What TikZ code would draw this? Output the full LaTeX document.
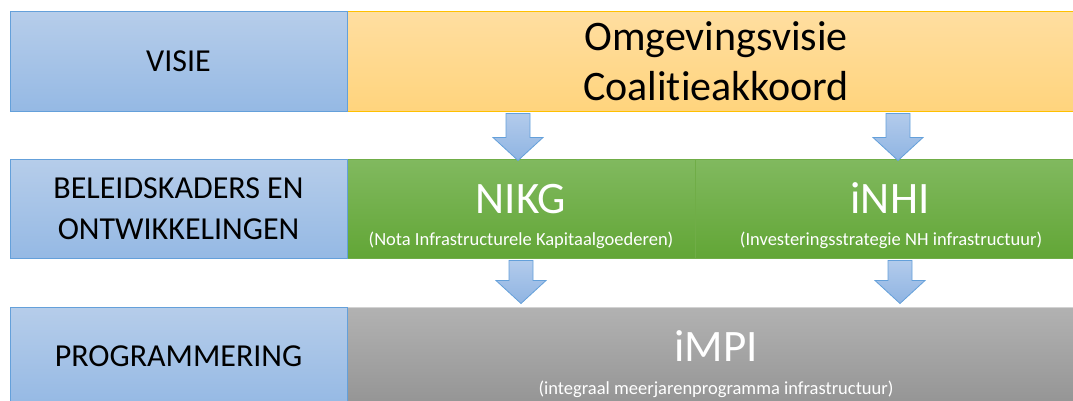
\documentclass[tikz,border=0pt]{standalone}
\usepackage{fontspec}
\setmainfont{Carlito}[Ligatures=NoCommon]
\usetikzlibrary{positioning,calc}
\definecolor{LblTop}{RGB}{182,205,234}
\definecolor{LblBot}{RGB}{149,185,228}
\definecolor{LblLine}{RGB}{100,160,218}
\definecolor{GoldTop}{RGB}{255,222,160}
\definecolor{GoldBot}{RGB}{255,212,125}
\definecolor{GoldLine}{RGB}{255,192,0}
\definecolor{GrnTop}{RGB}{129,185,95}
\definecolor{GrnBot}{RGB}{98,166,54}
\definecolor{GrnLine}{RGB}{112,173,71}
\definecolor{GryTop}{RGB}{178,178,178}
\definecolor{GryBot}{RGB}{148,148,148}
\definecolor{GryLine}{RGB}{210,210,210}
\definecolor{ArrTop}{RGB}{180,204,236}
\definecolor{ArrBot}{RGB}{143,180,226}

\tikzset{
  rowlbl/.style={draw=LblLine,line width=1pt,top color=LblTop,bottom color=LblBot,
    minimum width=337pt,minimum height=99pt,inner sep=0pt,align=center,
    font=\fontsize{32}{41}\selectfont},
  goldbox/.style={draw=GoldLine,line width=1pt,top color=GoldTop,bottom color=GoldBot,
    minimum height=99pt,inner sep=0pt,align=center,font=\fontsize{42}{50}\selectfont},
  grnbox/.style={draw=GrnLine,line width=1pt,top color=GrnTop,bottom color=GrnBot,
    minimum height=99pt,inner sep=0pt},
  grybox/.style={draw=GryLine,line width=1pt,top color=GryTop,bottom color=GryBot,
    minimum height=99pt,inner sep=0pt},
  bigw/.style={white,anchor=base,inner sep=0pt,font=\fontsize{45}{50}\selectfont},
  smallw/.style={white,anchor=base,inner sep=0pt,font=\fontsize{18.5}{20}\selectfont},
  blockarr/.style={draw=LblLine,line width=0.8pt,top color=ArrTop,bottom color=ArrBot,
    to path={let \p1=(\tikztostart),\p2=(\tikztotarget) in
      (\x2-12pt,\y1-2pt) -- (\x2+12pt,\y1-2pt) -- (\x2+12pt,\y2+23pt) -- (\x2+25pt,\y2+23pt)
      -- (\x2,\y2) -- (\x2-25pt,\y2+23pt) -- (\x2-12pt,\y2+23pt) -- cycle}}
}

\begin{document}
\begin{tikzpicture}[x=1pt,y=1pt]
\useasboundingbox (0,0) rectangle (1073,400);
\clip (0,0) rectangle (1073,400);

% coloured blocks (run past the right edge)
\node[goldbox,minimum width=738pt] (omg) at (716,338.5) {Omgevingsvisie\\Coalitieakkoord};
\node[grnbox,minimum width=348pt] (nikg) at (521,191.5) {};
\node[grnbox,minimum width=390pt] (inhi) at (890,191.5) {};
\node[grybox,minimum width=738pt] (impi) at (716,43.5) {};

% row labels
\node[rowlbl] (visie) at (178.5,338.5) {VISIE};
\node[rowlbl] (kader) at (178.5,191.5) {BELEIDSKADERS EN\\ONTWIKKELINGEN};
\node[rowlbl] (prog)  at (178.5,43.5) {PROGRAMMERING};

% block texts
\node[bigw]   (nikgT) at (521,187) {NIKG};
\node[smallw] (nikgS) at (521,155) {(Nota Infrastructurele Kapitaalgoederen)};
\node[bigw]   (inhiT) at (890,187) {iNHI};
\node[smallw] (inhiS) at (891,155) {(Investeringsstrategie NH infrastructuur)};
\node[bigw]   (impiT) at (716,39) {iMPI};
\node[smallw] (impiS) at (716,6) {(integraal meerjarenprogramma infrastructuur)};

% arrows between the rows
\draw[blockarr] (omg.south) to ([xshift=-3pt,yshift=-2pt]nikg.north);
\draw[blockarr] (omg.south) to ([xshift=8pt,yshift=-2pt]inhi.north);
\draw[blockarr] (nikg.south) to ([yshift=3pt]impi.north -| nikg.north);
\draw[blockarr] (inhi.south) to ([xshift=10pt,yshift=3pt]impi.north -| inhi.north);
\end{tikzpicture}
\end{document}
